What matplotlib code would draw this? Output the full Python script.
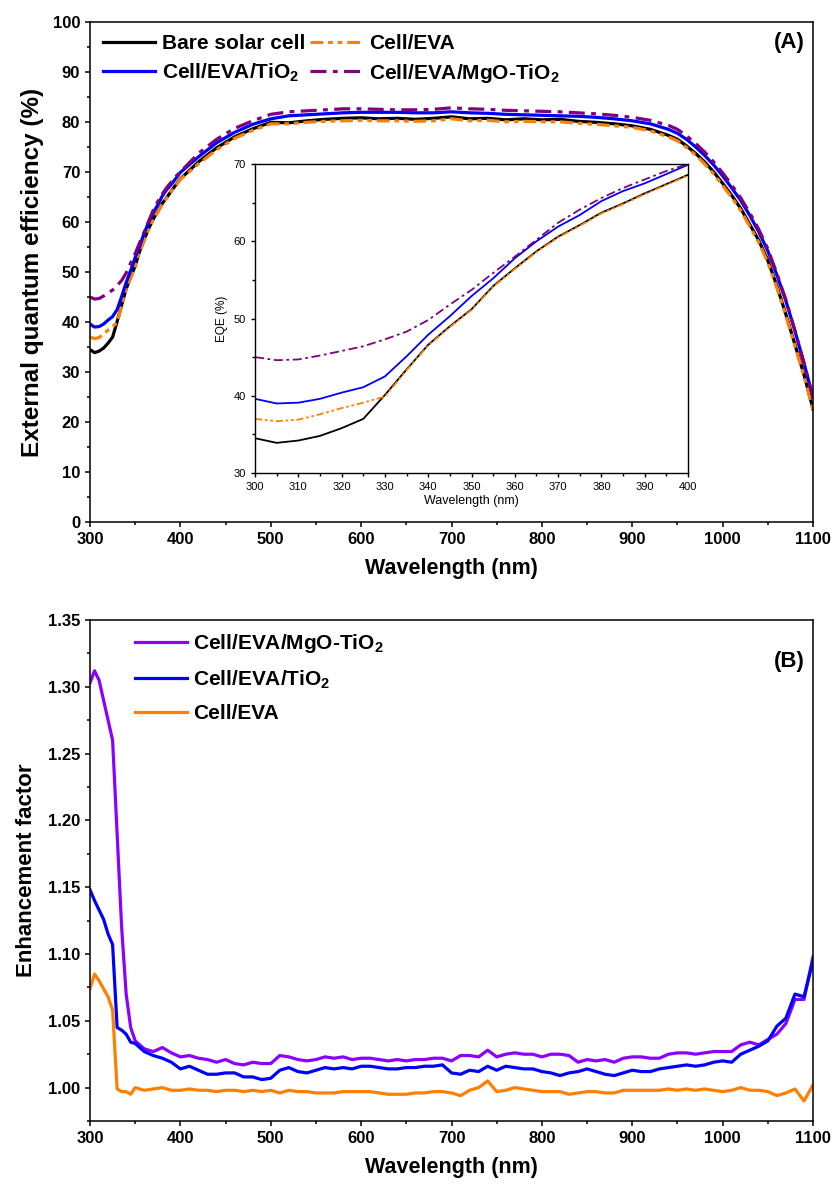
import numpy as np
import matplotlib
matplotlib.use('Agg')
import matplotlib.pyplot as plt
from matplotlib.ticker import MultipleLocator, FormatStrFormatter

plt.rcParams['font.family'] = 'Liberation Sans'
plt.rcParams['font.weight'] = 'bold'
plt.rcParams['mathtext.fontset'] = 'custom'
plt.rcParams['mathtext.bf'] = 'Liberation Sans:bold'
plt.rcParams['mathtext.rm'] = 'Liberation Sans:bold'
plt.rcParams['mathtext.default'] = 'bf'

# ---- EQE data (panel A) ----
wl = np.concatenate([np.arange(300, 401, 5), np.arange(420, 941, 20), np.arange(950, 1101, 10)])

bare = [34.5, 33.9, 34.2, 34.8, 35.8, 37.0, 40.1, 43.4, 46.6, 49.0, 51.2, 54.2, 56.5, 58.7, 60.6, 62.1, 63.7, 64.9, 66.2, 67.4, 68.6,
        72.0, 74.8, 77.0, 78.6, 79.9, 79.8, 80.2, 80.5, 80.7, 80.8, 80.6, 80.7, 80.5, 80.7, 81.0, 80.6, 80.7, 80.4, 80.6, 80.4, 80.5,
        80.1, 79.9, 79.6, 79.2, 78.5, 77.3,
        76.5, 75.2, 73.7, 72.0, 70.0, 67.7, 65.3, 62.7, 59.5, 56.3, 52.3, 47.2, 41.5, 35.5, 29.5, 22.6]
eva = [37.0, 36.7, 36.9, 37.6, 38.4, 39.1, 39.9, 43.3, 46.5, 48.9, 51.1, 54.1, 56.4, 58.6, 60.5, 62.0, 63.6, 64.8, 66.1, 67.3, 68.5,
       71.6, 74.4, 76.7, 78.3, 79.6, 79.6, 79.9, 80.1, 80.2, 80.3, 80.2, 80.2, 80.1, 80.2, 80.6, 80.2, 80.3, 80.0, 80.1, 80.0, 80.0,
       79.7, 79.5, 79.2, 78.9, 78.2, 77.0,
       76.2, 74.9, 73.4, 71.6, 69.6, 67.3, 64.9, 62.3, 59.1, 55.9, 51.9, 46.8, 41.2, 35.2, 29.3, 22.5]
tio2 = [39.6, 39.0, 39.1, 39.6, 40.4, 41.1, 42.5, 45.1, 47.9, 50.3, 52.9, 55.2, 57.8, 60.0, 61.9, 63.4, 65.2, 66.5, 67.5, 68.7, 69.9,
        73.0, 75.8, 77.9, 79.5, 80.6, 81.2, 81.4, 81.6, 81.8, 81.9, 81.9, 81.9, 81.8, 81.8, 82.0, 81.8, 81.7, 81.5, 81.4, 81.3, 81.2,
        81.1, 80.9, 80.6, 80.2, 79.6, 78.5,
        77.7, 76.5, 75.0, 73.3, 71.4, 69.2, 66.8, 64.3, 61.3, 58.0, 54.2, 49.4, 44.2, 38.2, 31.8, 25.0]
mgo = [45.0, 44.6, 44.7, 45.2, 45.8, 46.4, 47.3, 48.3, 49.8, 51.8, 53.7, 55.9, 58.0, 60.2, 62.4, 64.1, 65.6, 66.9, 68.0, 69.1, 70.0,
       73.7, 76.5, 78.7, 80.2, 81.5, 82.0, 82.2, 82.4, 82.6, 82.6, 82.5, 82.4, 82.4, 82.5, 82.8, 82.6, 82.5, 82.3, 82.2, 82.1, 82.0,
       81.8, 81.6, 81.3, 80.9, 80.3, 79.3,
       78.5, 77.2, 75.7, 74.0, 72.0, 69.8, 67.4, 64.8, 61.8, 58.5, 54.6, 49.7, 44.4, 38.3, 31.8, 24.8]

# ---- enhancement factor data (panel B) ----
wl_b = np.concatenate([np.arange(300, 351, 5), np.arange(360, 1101, 10)])

mgo_ef = [1.303, 1.312, 1.305, 1.290, 1.275, 1.260, 1.190, 1.120, 1.070, 1.045, 1.035,
          1.029, 1.027, 1.030, 1.026, 1.023, 1.024, 1.022, 1.021, 1.019, 1.021,
          1.018, 1.017, 1.019, 1.018, 1.018, 1.024, 1.023, 1.021, 1.020, 1.021,
          1.023, 1.022, 1.023, 1.021, 1.022, 1.022, 1.021, 1.020, 1.021, 1.020,
          1.021, 1.021, 1.022, 1.022, 1.020, 1.024, 1.024, 1.023, 1.028, 1.023,
          1.025, 1.026, 1.025, 1.025, 1.023, 1.025, 1.025, 1.024, 1.019, 1.021,
          1.020, 1.021, 1.019, 1.022, 1.023, 1.023, 1.022, 1.022, 1.025, 1.026,
          1.026, 1.025, 1.026, 1.027, 1.027, 1.027, 1.032, 1.034, 1.032, 1.036,
          1.040, 1.048, 1.066, 1.066, 1.098]
tio2_ef = [1.148, 1.140, 1.133, 1.126, 1.115, 1.107, 1.045, 1.043, 1.040, 1.034, 1.033,
           1.027, 1.024, 1.022, 1.019, 1.014, 1.016, 1.013, 1.010, 1.010, 1.011,
           1.011, 1.008, 1.008, 1.006, 1.007, 1.013, 1.015, 1.012, 1.011, 1.013,
           1.015, 1.014, 1.015, 1.014, 1.016, 1.016, 1.015, 1.014, 1.014, 1.015,
           1.015, 1.016, 1.016, 1.017, 1.011, 1.010, 1.013, 1.012, 1.016, 1.013,
           1.016, 1.015, 1.014, 1.014, 1.012, 1.011, 1.009, 1.011, 1.012, 1.014,
           1.012, 1.010, 1.009, 1.011, 1.013, 1.012, 1.012, 1.014, 1.015, 1.016,
           1.017, 1.016, 1.017, 1.019, 1.020, 1.019, 1.025, 1.028, 1.031, 1.035,
           1.046, 1.052, 1.070, 1.068, 1.095]
eva_ef = [1.074, 1.085, 1.080, 1.074, 1.068, 1.058, 0.999, 0.997, 0.997, 0.995, 1.000,
          0.998, 0.999, 1.000, 0.998, 0.998, 0.999, 0.998, 0.998, 0.997, 0.998,
          0.998, 0.997, 0.998, 0.997, 0.998, 0.996, 0.998, 0.997, 0.997, 0.996,
          0.996, 0.996, 0.997, 0.997, 0.997, 0.997, 0.996, 0.995, 0.995, 0.995,
          0.996, 0.996, 0.997, 0.997, 0.996, 0.994, 0.998, 1.000, 1.005, 0.997,
          0.998, 1.000, 0.999, 0.998, 0.997, 0.997, 0.997, 0.995, 0.996, 0.997,
          0.997, 0.996, 0.996, 0.998, 0.998, 0.998, 0.998, 0.998, 0.999, 0.998,
          0.999, 0.998, 0.999, 0.998, 0.997, 0.998, 1.000, 0.998, 0.998, 0.997,
          0.994, 0.996, 0.999, 0.990, 1.002]

orange = '#ff8000'
purple = '#800080'
violet = '#8c00ff'
blue = '#0000ff'
dashdotdot = (0, (4, 1.5, 1.5, 1.5, 1.5, 1.5))
dashdot = (0, (5, 2, 1.5, 2))


def style_axes(ax, lw=1.1, size=12, major=3.6, minor=2.4):
    for s in ax.spines.values():
        s.set_linewidth(lw)
    ax.tick_params(which='both', direction='out', top=False, right=False, width=lw)
    ax.tick_params(which='major', length=major, labelsize=size)
    ax.tick_params(which='minor', length=minor)


fig = plt.figure(figsize=(8.35, 11.86), dpi=100)

# panel A
ax1 = fig.add_axes([0.1078, 0.5596, 0.8659, 0.4221])
lw = 2.3
ax1.plot(wl, bare, color='black', lw=lw, label='Bare solar cell')
ax1.plot(wl, eva, color=orange, lw=lw, ls=dashdotdot, label='Cell/EVA')
ax1.plot(wl, tio2, color=blue, lw=lw, label='Cell/EVA/TiO$_2$')
ax1.plot(wl, mgo, color=purple, lw=lw, ls=dashdot, label='Cell/EVA/MgO-TiO$_2$')
ax1.set_xlim(300, 1100)
ax1.set_ylim(0, 100)
ax1.xaxis.set_major_locator(MultipleLocator(100))
ax1.xaxis.set_minor_locator(MultipleLocator(50))
ax1.yaxis.set_major_locator(MultipleLocator(10))
ax1.yaxis.set_minor_locator(MultipleLocator(5))
style_axes(ax1)
ax1.set_xlabel('Wavelength (nm)', fontsize=15.5, fontweight='bold', labelpad=8)
ax1.set_ylabel('External quantum efficiency (%)', fontsize=17.5, fontweight='bold', labelpad=6)
h, l = ax1.get_legend_handles_labels()
order = [0, 2, 1, 3]
ax1.legend([h[i] for i in order], [l[i] for i in order], ncol=2, frameon=False,
           loc='upper left', bbox_to_anchor=(0.018, 0.975), borderaxespad=0, borderpad=0,
           fontsize=15, handlelength=2.5, handletextpad=0.35, columnspacing=0.2,
           labelspacing=0.4)
ax1.text(0.989, 0.958, '(A)', transform=ax1.transAxes, ha='right', va='center',
         fontsize=16, fontweight='bold')

# inset
axi = fig.add_axes([0.3054, 0.6012, 0.5186, 0.2605])
lwi = 1.3
axi.plot(wl, bare, color='black', lw=lwi)
axi.plot(wl, eva, color=orange, lw=lwi, ls=dashdotdot)
axi.plot(wl, tio2, color=blue, lw=lwi)
axi.plot(wl, mgo, color=purple, lw=lwi, ls=dashdot)
axi.set_xlim(300, 400)
axi.set_ylim(30, 70)
axi.xaxis.set_major_locator(MultipleLocator(10))
axi.xaxis.set_minor_locator(MultipleLocator(5))
axi.yaxis.set_major_locator(MultipleLocator(10))
axi.yaxis.set_minor_locator(MultipleLocator(5))
style_axes(axi, lw=1.0, size=8, major=3, minor=2)
for t in axi.get_xticklabels() + axi.get_yticklabels():
    t.set_fontweight('normal')
axi.set_xlabel('Wavelength (nm)', fontsize=9, fontweight='normal', labelpad=2)
axi.set_ylabel('EQE (%)', fontsize=8.5, fontweight='normal', labelpad=4)

# panel B
ax2 = fig.add_axes([0.1078, 0.0548, 0.8659, 0.4224])
ax2.plot(wl_b, mgo_ef, color=violet, lw=lw, label='Cell/EVA/MgO-TiO$_2$')
ax2.plot(wl_b, tio2_ef, color=blue, lw=lw, label='Cell/EVA/TiO$_2$')
ax2.plot(wl_b, eva_ef, color=orange, lw=lw, label='Cell/EVA')
ax2.set_xlim(300, 1100)
ax2.xaxis.set_major_locator(MultipleLocator(100))
ax2.xaxis.set_minor_locator(MultipleLocator(50))
ax2.yaxis.set_minor_locator(MultipleLocator(0.025))
ax2.yaxis.set_major_formatter(FormatStrFormatter('%.2f'))
style_axes(ax2)
ax2.set_yticks(np.arange(1.0, 1.351, 0.05))
ax2.set_ylim(0.975, 1.35)
ax2.set_xlabel('Wavelength (nm)', fontsize=15.5, fontweight='bold', labelpad=8)
ax2.set_ylabel('Enhancement factor', fontsize=16, fontweight='bold', labelpad=8)
ax2.legend(frameon=False, loc='upper left', bbox_to_anchor=(0.062, 0.976), borderaxespad=0,
           borderpad=0, fontsize=15, handlelength=2.5, handletextpad=0.3, labelspacing=0.65)
ax2.text(0.989, 0.918, '(B)', transform=ax2.transAxes, ha='right', va='center',
         fontsize=16, fontweight='bold')

fig.savefig('out.png', dpi=100)
